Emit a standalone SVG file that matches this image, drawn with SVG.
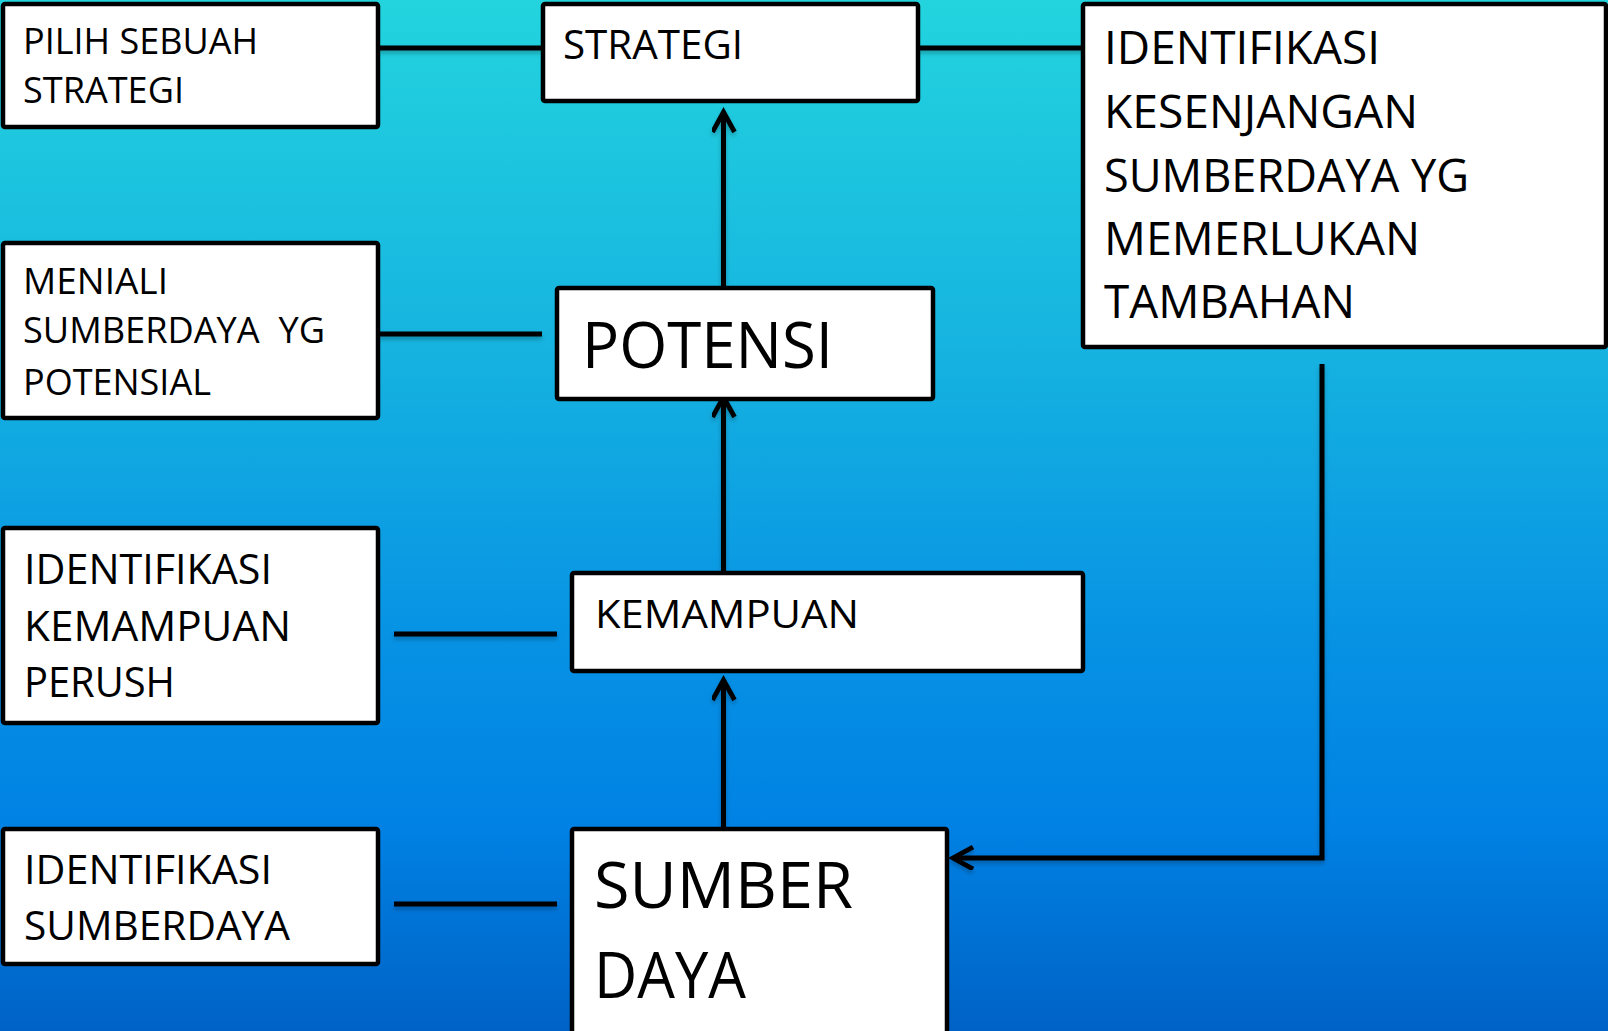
<svg xmlns="http://www.w3.org/2000/svg" width="1608" height="1031" viewBox="0 0 1608 1031">
<defs>
<linearGradient id="bg" x1="0" y1="0" x2="0" y2="1">
<stop offset="0" stop-color="#23D4DE"/>
<stop offset="0.33" stop-color="#16B4E0"/>
<stop offset="0.62" stop-color="#0792E4"/>
<stop offset="0.8" stop-color="#0082E4"/>
<stop offset="1" stop-color="#0062C6"/>
</linearGradient>
<filter id="sh" x="-10%" y="-10%" width="120%" height="140%">
<feDropShadow dx="0" dy="3" stdDeviation="2" flood-color="#000" flood-opacity="0.25"/>
</filter>
<marker id="arr" markerUnits="userSpaceOnUse" markerWidth="30" markerHeight="30" refX="21" refY="12" orient="auto">
<path d="M1,1 L21,12 L1,23" fill="none" stroke="#000" stroke-width="4.8" stroke-linejoin="miter"/>
</marker>
</defs>
<style>
.box{fill:#fff;stroke:#000;stroke-width:4.5}
.t{font-family:"Open Sans","Liberation Sans",sans-serif;fill:#000}
.c{fill:none;stroke:#000;stroke-width:5}
</style>
<rect x="0" y="0" width="1608" height="1031" fill="url(#bg)"/>

<g id="connectors" filter="url(#sh)">
<line class="c" x1="378" y1="48" x2="542" y2="48"/>
<line class="c" x1="918" y1="48" x2="1083" y2="48"/>
<line class="c" x1="378" y1="334" x2="542" y2="334"/>
<line class="c" x1="394" y1="634" x2="557" y2="634"/>
<line class="c" x1="394" y1="904" x2="557" y2="904"/>
<line class="c" x1="723.5" y1="288" x2="723.5" y2="112" marker-end="url(#arr)"/>
<line class="c" x1="723.5" y1="573" x2="723.5" y2="397" marker-end="url(#arr)"/>
<line class="c" x1="723.5" y1="829" x2="723.5" y2="680" marker-end="url(#arr)"/>
<polyline class="c" points="1322,364 1322,858 953,858" marker-end="url(#arr)"/>
</g>

<g id="pilih">
<rect class="box" x="3" y="4" width="375" height="123" rx="2"/>
<text class="t" font-size="36"><tspan x="23" y="54" textLength="235" lengthAdjust="spacingAndGlyphs">PILIH SEBUAH</tspan><tspan x="23" y="103" textLength="161" lengthAdjust="spacingAndGlyphs">STRATEGI</tspan></text>
</g>

<g id="strategi">
<rect class="box" x="543" y="4" width="375" height="97" rx="2"/>
<text class="t" font-size="41"><tspan x="563" y="59" textLength="180" lengthAdjust="spacingAndGlyphs">STRATEGI</tspan></text>
</g>

<g id="identifikasi-kesenjangan">
<rect class="box" x="1083" y="4" width="523" height="343" rx="2"/>
<text class="t" font-size="45">
<tspan x="1104" y="64" textLength="276" lengthAdjust="spacingAndGlyphs">IDENTIFIKASI</tspan>
<tspan x="1104" y="128" textLength="314" lengthAdjust="spacingAndGlyphs">KESENJANGAN</tspan>
<tspan x="1104" y="192" textLength="365" lengthAdjust="spacingAndGlyphs">SUMBERDAYA YG</tspan>
<tspan x="1104" y="255" textLength="316" lengthAdjust="spacingAndGlyphs">MEMERLUKAN</tspan>
<tspan x="1104" y="318" textLength="251" lengthAdjust="spacingAndGlyphs">TAMBAHAN</tspan>
</text>
</g>

<g id="meniali">
<rect class="box" x="3" y="243" width="375" height="175" rx="2"/>
<text class="t" font-size="36" xml:space="preserve"><tspan x="23" y="294" textLength="145" lengthAdjust="spacingAndGlyphs">MENIALI</tspan><tspan x="23" y="343" textLength="302" lengthAdjust="spacingAndGlyphs">SUMBERDAYA  YG</tspan><tspan x="23" y="395" textLength="188" lengthAdjust="spacingAndGlyphs">POTENSIAL</tspan></text>
</g>

<g id="potensi">
<rect class="box" x="557" y="288" width="376" height="111" rx="2"/>
<text class="t" font-size="64"><tspan x="582" y="368" textLength="251" lengthAdjust="spacingAndGlyphs">POTENSI</tspan></text>
</g>

<g id="identifikasi-kemampuan">
<rect class="box" x="3" y="528" width="375" height="195" rx="2"/>
<text class="t" font-size="42"><tspan x="24" y="584" textLength="248" lengthAdjust="spacingAndGlyphs">IDENTIFIKASI</tspan><tspan x="24" y="641" textLength="267" lengthAdjust="spacingAndGlyphs">KEMAMPUAN</tspan><tspan x="24" y="697" textLength="151" lengthAdjust="spacingAndGlyphs">PERUSH</tspan></text>
</g>

<g id="kemampuan">
<rect class="box" x="572" y="573" width="511" height="98" rx="2"/>
<text class="t" font-size="38"><tspan x="595" y="628" textLength="264" lengthAdjust="spacingAndGlyphs">KEMAMPUAN</tspan></text>
</g>

<g id="identifikasi-sumberdaya">
<rect class="box" x="3" y="829" width="375" height="135" rx="2"/>
<text class="t" font-size="41"><tspan x="24" y="884" textLength="248" lengthAdjust="spacingAndGlyphs">IDENTIFIKASI</tspan><tspan x="24" y="940" textLength="266" lengthAdjust="spacingAndGlyphs">SUMBERDAYA</tspan></text>
</g>

<g id="sumber-daya">
<rect class="box" x="572" y="829" width="375" height="210" rx="2"/>
<text class="t" font-size="64"><tspan x="594" y="908" textLength="259" lengthAdjust="spacingAndGlyphs">SUMBER</tspan><tspan x="594" y="998" textLength="152" lengthAdjust="spacingAndGlyphs">DAYA</tspan></text>
</g>
</svg>
